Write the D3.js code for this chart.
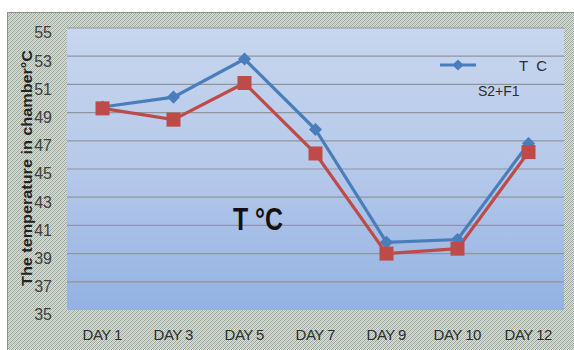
<!DOCTYPE html>
<html><head><meta charset="utf-8">
<script src="https://cdn.jsdelivr.net/npm/d3@7"></script>
<style>body{margin:0;background:#fff;} svg{display:block;}</style>
</head><body>
<svg id="c" width="574" height="350"></svg>
<script>
const categories = ["DAY 1","DAY 3","DAY 5","DAY 7","DAY 9","DAY 10","DAY 12"];
const seriesBlue = [49.4, 50.1, 52.8, 47.8, 39.8, 40.0, 46.8];
const seriesRed  = [49.3, 48.5, 51.1, 46.1, 39.0, 39.35, 46.2];
const yTicks = [35,37,39,41,43,45,47,49,51,53,55];
const legendLabel1 = "T  C";
const legendLabel2 = "S2+F1";
const chartTitle = "T \u00B0C";
const yTitle = "The temperature in chamber\u00B0C";

const svg = d3.select("#c");
const W = 574, H = 350;
const m = {left:67, right:10, top:28, bottom:40};
const pw = 564 - m.left, ph = 310 - m.top;

const defs = svg.append("defs");
const pat = defs.append("pattern").attr("id","tex").attr("width",4).attr("height",4).attr("patternUnits","userSpaceOnUse");
pat.append("rect").attr("width",4).attr("height",4).attr("fill","#d6dfd6");
[[0,0],[2,0],[1,1],[3,1],[0,2],[2,2],[1,3],[3,3]].forEach(([x,y],i)=>{
  pat.append("rect").attr("x",x).attr("y",y).attr("width",1).attr("height",1)
    .attr("fill", (x+y)%4===0 ? "#98a298" : "#b6c0b6");
});
const grad = defs.append("linearGradient").attr("id","pg").attr("x1",0).attr("y1",0).attr("x2",0).attr("y2",1);
grad.append("stop").attr("offset","0%").attr("stop-color","#c8d6ee");
grad.append("stop").attr("offset","50%").attr("stop-color","#b5c9ea");
grad.append("stop").attr("offset","100%").attr("stop-color","#93b2e2");

// outer frame
svg.append("rect").attr("x",7.5).attr("y",12.5).attr("width",W).attr("height",H)
  .attr("fill","url(#tex)").attr("stroke","#8a918a").attr("stroke-width",1);

const g = svg.append("g").attr("transform",`translate(${m.left},${m.top})`);
g.append("rect").attr("width",pw).attr("height",ph).attr("fill","url(#pg)");

const x = d3.scaleBand().domain(categories).range([0,pw]).padding(0);
const y = d3.scaleLinear().domain([35,55]).range([ph,0]);
const cx = d => x(d) + x.bandwidth()/2;

// gridlines
g.append("g").selectAll("line").data(yTicks.filter(t=>t>35)).join("line")
  .attr("x1",0).attr("x2",pw).attr("y1",d=>y(d)).attr("y2",d=>y(d))
  .attr("stroke","#8f969e").attr("stroke-width",1.2);

// y axis labels
const yAxis = d3.axisLeft(y).tickValues(yTicks).tickSize(0).tickPadding(15);
const ya = g.append("g").call(yAxis);
ya.select(".domain").remove();
ya.selectAll("text").attr("font-family","Liberation Sans, Arial, sans-serif").attr("font-size",16)
  .attr("fill","#404040").attr("dy","0.62em");

// x axis labels
const xAxis = d3.axisBottom(x).tickSize(0).tickPadding(19);
const xa = g.append("g").attr("transform",`translate(0,${ph})`).call(xAxis);
xa.select(".domain").remove();
xa.selectAll("text").attr("font-family","Liberation Sans, Arial, sans-serif").attr("font-size",15)
  .attr("fill","#2e2e2e").attr("textLength",function(){return this.getComputedTextLength()*0.95;});

// lines
const line = d3.line().x((d,i)=>cx(categories[i])).y(d=>y(d));
g.append("path").datum(seriesBlue).attr("d",line).attr("fill","none").attr("stroke","#4a7ebb").attr("stroke-width",3.2);
g.append("path").datum(seriesRed).attr("d",line).attr("fill","none").attr("stroke","#be4b48").attr("stroke-width",3.2);

// markers
g.append("g").selectAll("path").data(seriesBlue).join("path")
  .attr("d", d3.symbol().type(d3.symbolDiamond2).size(110))
  .attr("transform",(d,i)=>`translate(${cx(categories[i])},${y(d)})`)
  .attr("fill","#4a7ebb");
g.append("g").selectAll("rect").data(seriesRed).join("rect")
  .attr("x",(d,i)=>cx(categories[i])-7).attr("y",d=>y(d)-7)
  .attr("width",14).attr("height",14).attr("fill","#be4b48");

// legend
svg.append("line").attr("x1",440).attr("x2",476).attr("y1",65).attr("y2",65).attr("stroke","#4a7ebb").attr("stroke-width",3.2);
svg.append("path").attr("d", d3.symbol().type(d3.symbolDiamond2).size(80)).attr("transform","translate(458,65)").attr("fill","#4a7ebb");
svg.append("text").attr("x",519).attr("y",71).text(legendLabel1)
  .attr("font-family","Liberation Sans, Arial, sans-serif").attr("font-size",15).attr("fill","#2e2e2e").attr("xml:space","preserve");
svg.append("text").attr("x",478).attr("y",96).text(legendLabel2)
  .attr("font-family","Liberation Sans, Arial, sans-serif").attr("font-size",14).attr("fill","#2e2e2e");

// chart label
svg.append("text").attr("x",233).attr("y",230).text(chartTitle)
  .attr("font-family","Liberation Sans, Arial, sans-serif").attr("font-size",31).attr("font-weight","bold")
  .attr("textLength",50).attr("lengthAdjust","spacingAndGlyphs").attr("fill","#111");

// y title
svg.append("text").attr("transform","translate(32,168) rotate(-90)").attr("text-anchor","middle")
  .text(yTitle).attr("font-family","Liberation Sans, Arial, sans-serif").attr("font-size",14)
  .attr("font-weight","bold").attr("fill","#222").attr("textLength",236).attr("lengthAdjust","spacingAndGlyphs");
</script>
</body></html>
